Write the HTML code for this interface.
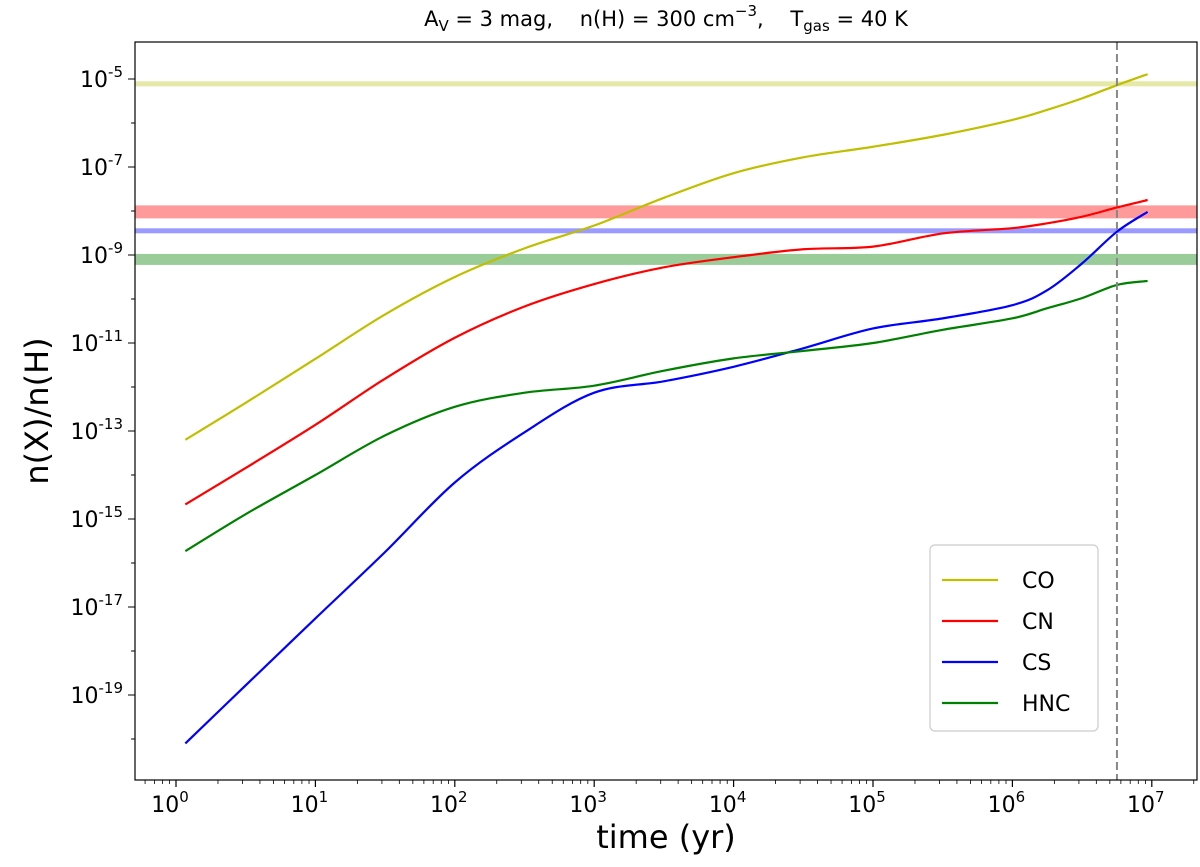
<!DOCTYPE html>
<html><head><meta charset="utf-8"><style>
body{margin:0;background:#fff}
svg text{font-family:"DejaVu Sans","Liberation Sans",sans-serif}
</style></head><body>
<svg id="c" width="1200" height="862" xmlns="http://www.w3.org/2000/svg"></svg>
<script>
const xTickExps=[0,1,2,3,4,5,6,7];
const yTickExps=[-5,-7,-9,-11,-13,-15,-17,-19];
const seriesNames=["CO","CN","CS","HNC"];
const seriesColors=["#bfbf00","#ff0000","#0000ff","#008000"];
const logTimes=[0.067,0.5,1,1.5,2,2.5,3,3.5,4,4.5,5,5.5,6,6.25,6.5,6.75,6.97];
const coVals=[-13.2,-12.36,-11.36,-10.35,-9.5,-8.85,-8.33,-7.7,-7.14,-6.78,-6.54,-6.27,-5.93,-5.7,-5.44,-5.14,-4.89];
const cnVals=[-14.67,-13.84,-12.86,-11.81,-10.88,-10.17,-9.66,-9.28,-9.05,-8.87,-8.81,-8.51,-8.39,-8.28,-8.13,-7.92,-7.75];
const csVals=[-20.1,-18.78,-17.26,-15.75,-14.17,-13.03,-12.13,-11.87,-11.54,-11.12,-10.67,-10.44,-10.14,-9.8,-9.19,-8.47,-8.02];
const hncVals=[-15.73,-14.89,-14.0,-13.1,-12.45,-12.13,-11.97,-11.63,-11.35,-11.18,-11.0,-10.7,-10.44,-10.21,-9.98,-9.68,-9.59];
const seriesVals=[coVals,cnVals,csVals,hncVals];
const bandVals=[-5.11,-8.02,-8.45,-9.1];
const bandWidths=[5,13,5,11];
const bandColors=["#e5e8a6","#ff9a9a","#9a9aff","#99cc99"];
const vlineLog=6.75;

const L=135,R=1197,T=42,B=780;
const X=v=>176+v*139.4;
const Y=v=>79-(v+5)*44;
const svg=document.getElementById('c');const NS="http://www.w3.org/2000/svg";
function mk(tag,at,parent){const e=document.createElementNS(NS,tag);for(const k in at)e.setAttribute(k,at[k]);(parent||svg).appendChild(e);return e;}
function smooth(pts){let d='M'+pts[0][0]+','+pts[0][1];
for(let i=0;i<pts.length-1;i++){const p0=pts[Math.max(0,i-1)],p1=pts[i],p2=pts[i+1],p3=pts[Math.min(pts.length-1,i+2)];
const c1=[p1[0]+(p2[0]-p0[0])/6,p1[1]+(p2[1]-p0[1])/6],c2=[p2[0]-(p3[0]-p1[0])/6,p2[1]-(p3[1]-p1[1])/6];
d+=' C'+c1.join(',')+' '+c2.join(',')+' '+p2.join(',');}return d;}
bandVals.forEach((b,i)=>{const r=mk('rect',{x:L,y:Y(b)-bandWidths[i]/2,width:R-L,height:bandWidths[i],fill:bandColors[i]});

});
seriesVals.forEach((vals,i)=>{const p=mk('path',{d:smooth(vals.map((v,j)=>[X(logTimes[j]),Y(v)])),fill:'none',stroke:seriesColors[i],'stroke-width':2.2,'stroke-linejoin':'round'});

});
const vl=mk('line',{x1:X(vlineLog),x2:X(vlineLog),y1:T,y2:B,stroke:'#888','stroke-width':2,'stroke-dasharray':'8,4'});


const fr=mk('rect',{x:L,y:T,width:R-L,height:B-T,fill:'none',stroke:'#000','stroke-width':1.2});


xTickExps.forEach(e=>{const x=X(e);mk('line',{x1:x,x2:x,y1:B,y2:B+7,stroke:'#000','stroke-width':1.2});
for(let k=2;k<10;k++){const xm=X(e+Math.log10(k));if(xm<R)mk('line',{x1:xm,x2:xm,y1:B,y2:B+4,stroke:'#000','stroke-width':0.8});}
const t=mk('text',{x:x-6,y:B+32,'font-size':22,'text-anchor':'middle'});t.innerHTML='10<tspan dy="-10" font-size="15">'+e+'</tspan>';

});
for(let k=2;k<10;k++){const xm=X(-1+Math.log10(k));if(xm>L)mk('line',{x1:xm,x2:xm,y1:B,y2:B+4,stroke:'#000','stroke-width':0.8});}
for(let e=-20;e<=-5;e++){const y=Y(e);mk('line',{x1:L-(e%2?7:4),x2:L,y1:y,y2:y,stroke:'#000','stroke-width':1});}
yTickExps.forEach(e=>{const y=Y(e);const t=mk('text',{x:L-12,y:y+8,'font-size':22,'text-anchor':'end'});t.innerHTML='10<tspan dy="-10" font-size="15">'+e+'</tspan>';

});
const xt=mk('text',{x:666,y:848,'font-size':32,'text-anchor':'middle'});xt.textContent='time (yr)';


const yt=mk('text',{x:0,y:0,'font-size':32,'text-anchor':'middle',transform:'translate(48,411) rotate(-90)'});yt.textContent='n(X)/n(H)';


const tt=mk('text',{x:666,y:26,'font-size':21,'text-anchor':'middle','xml:space':'preserve',style:'white-space:pre'});
tt.innerHTML='A<tspan dy="5" font-size="15">V</tspan><tspan dy="-5"> = 3 mag,    n(H) = 300 cm</tspan><tspan dy="-10" font-size="15">−3</tspan><tspan dy="10">,    T</tspan><tspan dy="5" font-size="15">gas</tspan><tspan dy="-5"> = 40 K</tspan>';


const lg=mk('rect',{x:930,y:545,width:168,height:186,rx:5,fill:'#fff',stroke:'#ccc','stroke-width':1.2});


seriesNames.forEach((n,i)=>{const y=580+i*41;
mk('line',{x1:942,x2:998,y1:y,y2:y,stroke:seriesColors[i],'stroke-width':2.2});
const t=mk('text',{x:1022,y:y+8,'font-size':22});t.textContent=n;

});
</script>
</body></html>
